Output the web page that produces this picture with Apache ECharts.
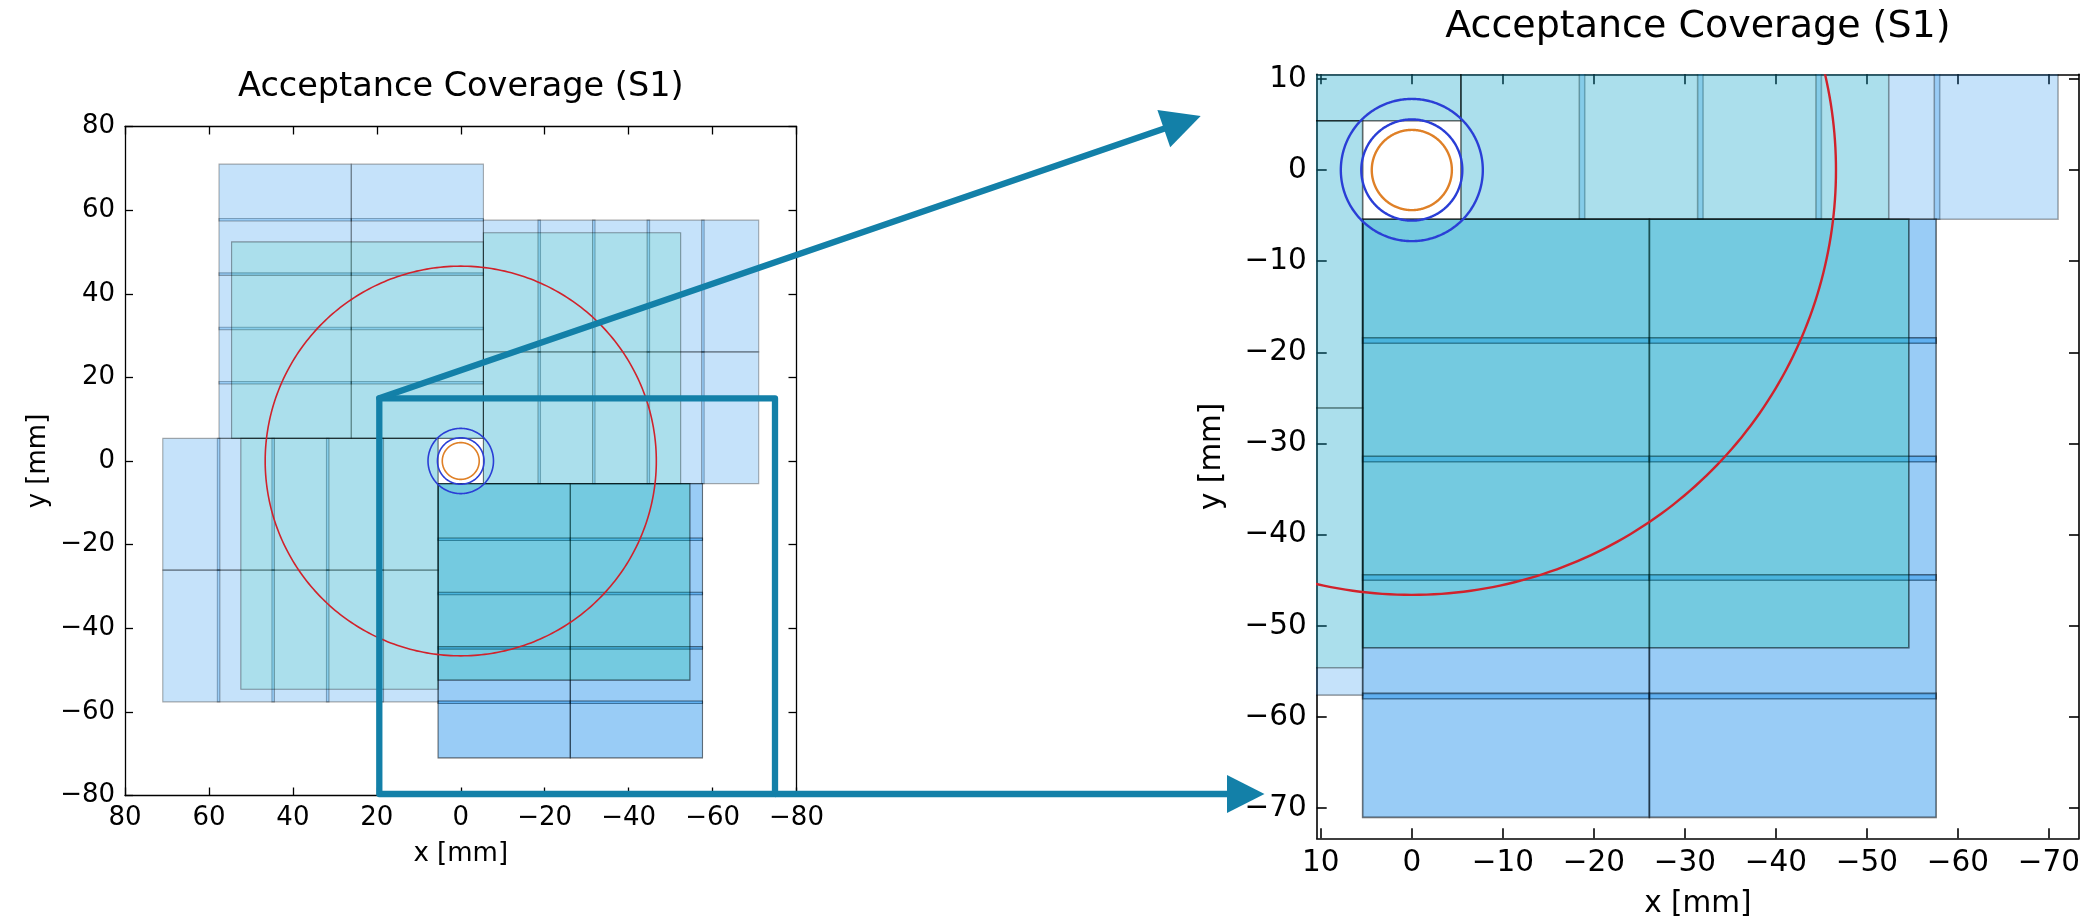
<!DOCTYPE html>
<html>
<head>
<meta charset="utf-8">
<script src="https://cdn.jsdelivr.net/npm/echarts@6.0.0/dist/echarts.min.js"></script>
<style>
  html, body { margin: 0; padding: 0; background: #fff; }
  #chart { width: 2096px; height: 919px; }
</style>
</head>
<body>
<div id="chart"></div>
<script>
// detector geometry, mm (top module; the others are the same module turned by 90 deg steps)
var sensorXEdges = [[-5.4, 26.1], [26.1, 57.6]];
var sensorYEdges = [[5.4, 19.0], [18.4, 32.0], [31.4, 45.0], [44.4, 58.0], [57.4, 71.0]];
var activeArea = [-5.4, 54.6, 5.4, 52.4];
var moduleAngles = [0, 90, 180, 270];
var moduleLayers = [1, 1, 2, 1];
var circleRadii = [46.6, 7.8, 5.55, 4.4];

// axes
var fullRange = [-80, 80];
var fullTicks = [-80, -60, -40, -20, 0, 20, 40, 60, 80];
var zoomXRange = [-73.3, 10.45];
var zoomYRange = [-73.3, 10.5];
var zoomTicks = [-70, -60, -50, -40, -30, -20, -10, 0, 10];

var TITLE = 'Acceptance Coverage (S1)';
var FONT = 'DejaVu Sans';
var SENSOR_FILL = 'rgba(24,140,235,0.25)';
var SENSOR_EDGE = 'rgba(0,0,0,0.32)';
var INNER_FILL = 'rgba(0,208,147,0.13)';
var INNER_EDGE = 'rgba(0,0,0,0.36)';
var CIRCLE_COLORS = ['#d1222b', '#2a3ed6', '#2a3ed6', '#df8027'];
var ANNOT = '#1380a8';

function rotate(r, ang) {
  var x0 = r[0], x1 = r[1], y0 = r[2], y1 = r[3];
  if (ang === 90) return [-y1, -y0, x0, x1];
  if (ang === 180) return [-x1, -x0, -y1, -y0];
  if (ang === 270) return [y0, y1, -x1, -x0];
  return [x0, x1, y0, y1];
}

var rects = [];
moduleAngles.forEach(function (ang, m) {
  for (var l = 0; l < moduleLayers[m]; l++) {
    sensorXEdges.forEach(function (xe) {
      sensorYEdges.forEach(function (ye) {
        rects.push(rotate([xe[0], xe[1], ye[0], ye[1]], ang).concat([0]));
      });
    });
    rects.push(rotate(activeArea, ang).concat([1]));
  }
});
var circles = circleRadii.map(function (r) { return [r, 0]; });

function fmt(v) { return String(v).replace('-', '\u2212'); }

function rectRenderer(lw) {
  return function (params, api) {
    var a = api.coord([api.value(0), api.value(2)]);
    var b = api.coord([api.value(1), api.value(3)]);
    var inner = api.value(4) === 1;
    return {
      type: 'rect',
      shape: {
        x: Math.min(a[0], b[0]), y: Math.min(a[1], b[1]),
        width: Math.abs(a[0] - b[0]), height: Math.abs(a[1] - b[1])
      },
      style: {
        fill: inner ? INNER_FILL : SENSOR_FILL,
        stroke: inner ? INNER_EDGE : SENSOR_EDGE,
        lineWidth: lw
      }
    };
  };
}

function circleRenderer(lw) {
  return function (params, api) {
    var r = api.value(0);
    var pts = [];
    for (var i = 0; i <= 360; i++) {
      var t = i / 360 * 2 * Math.PI;
      pts.push(api.coord([r * Math.cos(t), r * Math.sin(t)]));
    }
    return {
      type: 'polyline',
      shape: { points: pts },
      style: { stroke: CIRCLE_COLORS[params.dataIndex], lineWidth: lw, fill: null }
    };
  };
}

function axisPair(dim, grid, range, ticks, opt) {
  var line = { show: true, onZero: false, lineStyle: { color: '#000', width: opt.lw } };
  var tick = { show: true, inside: true, length: opt.tick, customValues: ticks,
    lineStyle: { color: '#000', width: opt.lw } };
  var main = {
    type: 'value', gridIndex: grid, min: range[0], max: range[1],
    inverse: dim === 'x',
    position: dim === 'x' ? 'bottom' : 'left',
    splitLine: { show: false },
    axisLine: line, axisTick: tick,
    axisLabel: { customValues: ticks, formatter: fmt, color: '#000', fontFamily: FONT,
      fontSize: opt.font, margin: opt.margin },
    name: dim === 'x' ? 'x [mm]' : 'y [mm]',
    nameLocation: 'middle',
    nameGap: dim === 'x' ? opt.xGap : opt.yGap,
    nameTextStyle: { color: '#000', fontFamily: FONT, fontSize: opt.font, lineHeight: opt.font }
  };
  var other = {
    type: 'value', gridIndex: grid, min: range[0], max: range[1],
    inverse: dim === 'x',
    position: dim === 'x' ? 'top' : 'right',
    splitLine: { show: false },
    axisLine: line, axisTick: tick,
    axisLabel: { show: false }
  };
  return [main, other];
}

var leftOpt = { lw: 1.3, tick: 8, font: 26, margin: 10, xGap: 46, yGap: 74 };
var rightOpt = { lw: 1.6, tick: 10, font: 29.5, margin: 10, xGap: 51, yGap: 90 };

var xAxes = axisPair('x', 0, fullRange, fullTicks, leftOpt).concat(axisPair('x', 1, zoomXRange, zoomTicks, rightOpt));
var yAxes = axisPair('y', 0, fullRange, fullTicks, leftOpt).concat(axisPair('y', 1, zoomYRange, zoomTicks, rightOpt));

var chart = echarts.init(document.getElementById('chart'));

option = {
  backgroundColor: '#fff',
  animation: false,
  grid: [
    { left: 125, top: 126.5, width: 671.5, height: 669, outerBoundsMode: 'none' },
    { left: 1316.7, top: 74.3, width: 762.3, height: 764, outerBoundsMode: 'none' }
  ],
  xAxis: xAxes,
  yAxis: yAxes,
  series: [
    { type: 'custom', xAxisIndex: 0, yAxisIndex: 0, clip: true, z: 2,
      renderItem: rectRenderer(1.1), data: rects },
    { type: 'custom', xAxisIndex: 0, yAxisIndex: 0, clip: true, z: 3,
      renderItem: circleRenderer(1.6), data: circles },
    { type: 'custom', xAxisIndex: 2, yAxisIndex: 2, clip: true, z: 2,
      renderItem: rectRenderer(1.6), data: rects },
    { type: 'custom', xAxisIndex: 2, yAxisIndex: 2, clip: true, z: 3,
      renderItem: circleRenderer(2.4), data: circles }
  ],
  graphic: [
    { type: 'text', x: 460.8, y: 87, style: { text: TITLE, font: '33.5px "DejaVu Sans"',
      fill: '#000', textAlign: 'center', textVerticalAlign: 'middle' } },
    { type: 'text', x: 1697.9, y: 27, style: { text: TITLE, font: '38px "DejaVu Sans"',
      fill: '#000', textAlign: 'center', textVerticalAlign: 'middle' } },
    // zoom box and arrows
    { type: 'rect', z: 100, shape: { x: 379.3, y: 398.3, width: 395.7, height: 395.7 },
      style: { fill: null, stroke: ANNOT, lineWidth: 6.3, lineJoin: 'round' } },
    { type: 'line', z: 100, shape: { x1: 379.3, y1: 398.3, x2: 1166, y2: 128 },
      style: { stroke: ANNOT, lineWidth: 6.3, lineCap: 'round' } },
    { type: 'polygon', z: 100, shape: { points: [[1200.7, 116], [1157.4, 110.1], [1170.2, 147.3]] },
      style: { fill: ANNOT } },
    { type: 'line', z: 100, shape: { x1: 775, y1: 794, x2: 1230, y2: 794 },
      style: { stroke: ANNOT, lineWidth: 6.3 } },
    { type: 'polygon', z: 100, shape: { points: [[1264.5, 794], [1227, 775], [1227, 813]] },
      style: { fill: ANNOT } }
  ]
};

chart.setOption(option);
</script>
</body>
</html>
